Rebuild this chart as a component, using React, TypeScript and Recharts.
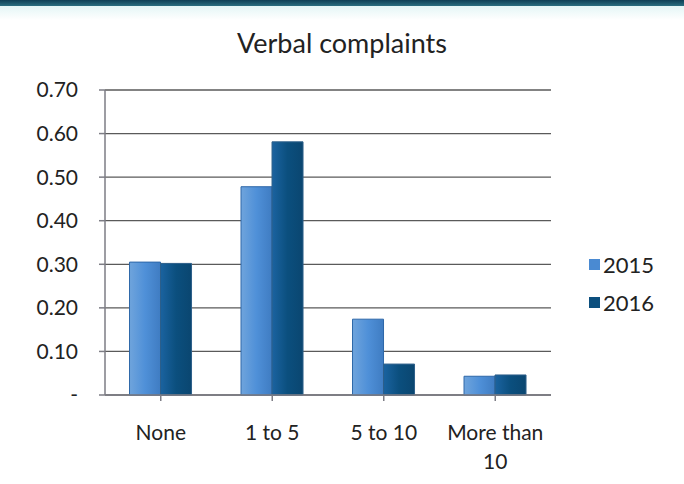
import { BarChart, Bar, XAxis, YAxis, CartesianGrid } from "recharts";

const categories = ["None", "1 to 5", "5 to 10", "More than 10"];
const values2015 = [0.305, 0.478, 0.174, 0.043];
const values2016 = [0.302, 0.581, 0.071, 0.046];
const yTicks = [0, 0.1, 0.2, 0.3, 0.4, 0.5, 0.6, 0.7];
const seriesNames = ["2015", "2016"];
const seriesColors = ["#4a8ad2", "#0c4f7e"];

const data = categories.map((name, i) => ({
  name,
  y2015: values2015[i],
  y2016: values2016[i],
}));

const font = "Lato, 'Open Sans', sans-serif";

function CategoryTick(props: any) {
  const { x, y, payload } = props;
  const label: string = payload.value;
  const lines = label === "More than 10" ? ["More than", "10"] : [label];
  return (
    <g transform={`translate(${x},${y})`}>
      {lines.map((line, i) => (
        <text
          key={i}
          x={0}
          y={37 + i * 29}
          textAnchor="middle"
          fill="#222"
          fontSize={21}
          fontFamily={font}
        >
          {line}
        </text>
      ))}
    </g>
  );
}

export default function App() {
  return (
    <div
      style={{
        position: "absolute",
        left: 0,
        top: 0,
        width: 684,
        height: 484,
        background: "#fff",
        fontFamily: font,
      }}
    >
      <div
        style={{
          position: "absolute",
          left: 0,
          top: 0,
          width: 684,
          height: 6,
          background: "linear-gradient(180deg, #0e3f55, #2a6e80)",
        }}
      />
      <div
        style={{
          position: "absolute",
          left: 0,
          top: 6,
          width: 684,
          height: 14,
          background: "linear-gradient(180deg, #e4f6f6, #ffffff)",
        }}
      />
      <div
        style={{
          position: "absolute",
          top: 26,
          left: 0,
          width: 684,
          textAlign: "center",
          fontSize: 27,
          color: "#222",
        }}
      >
        Verbal complaints
      </div>

      <BarChart
        width={684}
        height={484}
        data={data}
        margin={{ top: 90, right: 133, bottom: 59, left: 0 }}
        barCategoryGap="22%"
        barGap={0}
      >
        <defs>
          <linearGradient id="g2015" x1="0" y1="0" x2="1" y2="0">
            <stop offset="0%" stopColor="#6fa4dc" />
            <stop offset="50%" stopColor="#4f90d8" />
            <stop offset="100%" stopColor="#3f7cc2" />
          </linearGradient>
          <linearGradient id="g2016" x1="0" y1="0" x2="1" y2="0">
            <stop offset="0%" stopColor="#1b63a0" />
            <stop offset="50%" stopColor="#0b4f7e" />
            <stop offset="100%" stopColor="#0a4670" />
          </linearGradient>
        </defs>
        <CartesianGrid vertical={false} stroke="#5a5a5a" strokeWidth={1.3} />
        <XAxis
          dataKey="name"
          stroke="#7d7d85"
          strokeWidth={1.5}
          tickSize={6}
          interval={0}
          tick={<CategoryTick />}
        />
        <YAxis
          width={105}
          domain={[0, 0.7]}
          ticks={yTicks}
          stroke="#7d7d85"
          strokeWidth={1.5}
          tickSize={6}
          tickMargin={21}
          tickFormatter={(v: number) => (v === 0 ? "-" : v.toFixed(2))}
          tick={{ fill: "#222", fontSize: 21, fontFamily: font }}
        />
        <Bar
          dataKey="y2015"
          name={seriesNames[0]}
          fill="url(#g2015)"
          stroke="#2d67a8"
          strokeWidth={1}
          isAnimationActive={false}
        />
        <Bar
          dataKey="y2016"
          name={seriesNames[1]}
          fill="url(#g2016)"
          stroke="#2d5f8a"
          strokeWidth={1}
          isAnimationActive={false}
        />
      </BarChart>

      <div style={{ position: "absolute", left: 589, top: 245 }}>
        {seriesNames.map((s, i) => (
          <div
            key={s}
            style={{
              display: "flex",
              alignItems: "center",
              height: 38,
              fontSize: 22,
              color: "#222",
            }}
          >
            <span
              style={{
                width: 11,
                height: 11,
                background: seriesColors[i],
                marginRight: 3,
                display: "inline-block",
              }}
            />
            {s}
          </div>
        ))}
      </div>
    </div>
  );
}
